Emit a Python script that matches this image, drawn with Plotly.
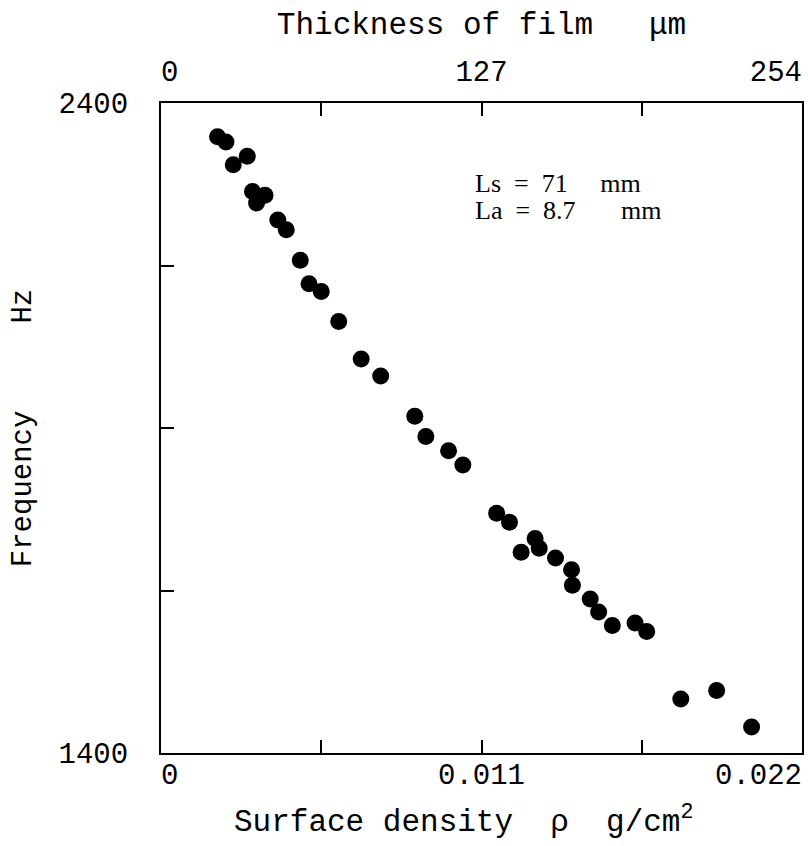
import plotly.graph_objects as go

# Surface density (g/cm^2) and frequency (Hz)
density = [0.00194, 0.00223, 0.00248, 0.00296, 0.00314, 0.00328, 0.00357, 0.00401,
           0.00430, 0.00478, 0.00508, 0.00550, 0.00610, 0.00687, 0.00754, 0.00871,
           0.00909, 0.00987, 0.01036, 0.01152, 0.01196, 0.01236, 0.01284, 0.01298,
           0.01354, 0.01409, 0.01412, 0.01473, 0.01502, 0.01549, 0.01627, 0.01667,
           0.01784, 0.01907, 0.02027]
frequency = [2348, 2340, 2305, 2318, 2264, 2246, 2258, 2220,
             2205, 2158, 2122, 2110, 2064, 2006, 1980, 1918,
             1887, 1865, 1843, 1769, 1755, 1709, 1730, 1715,
             1700, 1682, 1658, 1637, 1617, 1596, 1600, 1587,
             1483, 1496, 1440]

x_tickvals = [0, 0.0055, 0.011, 0.0165, 0.022]
x_ticktext = ["\u00a00", "", "0.011", "", "0.022\u00a0\u00a0\u00a0\u00a0\u00a0"]
top_tickvals = [0, 63.5, 127, 190.5, 254]
top_ticktext = ["\u00a00", "", "127", "", "254\u00a0\u00a0\u00a0"]
y_tickvals = [1400, 1650, 1900, 2150, 2400]
y_ticktext = ["1400", "", "", "", "2400"]

MONO = "Liberation Mono"
NB = "\u00a0"

fig = go.Figure()
fig.add_trace(go.Scatter(
    x=density, y=frequency, mode="markers",
    marker=dict(size=17, color="black"),
    showlegend=False, hoverinfo="skip"))
# invisible trace to activate top axis
fig.add_trace(go.Scatter(x=[0, 254], y=[1400, 1400], xaxis="x2", mode="markers",
                         marker=dict(opacity=0), showlegend=False, hoverinfo="skip"))

axis_common = dict(showgrid=False, zeroline=False, showline=True, linecolor="black",
                   linewidth=2, ticks="inside", ticklen=13, tickwidth=2, tickcolor="black",
                   automargin=False, ticklabeloverflow="allow")

fig.update_layout(
    width=808, height=846,
    margin=dict(l=161, r=6, t=103, b=93),
    paper_bgcolor="white", plot_bgcolor="white",
    font=dict(family=MONO, color="black", size=29),
    xaxis=dict(range=[0, 0.022], tickvals=x_tickvals, ticktext=x_ticktext,
               tickfont=dict(size=29), ticklabelstandoff=-6,
               **axis_common),
    xaxis2=dict(range=[0, 254], overlaying="x", side="top", tickvals=top_tickvals,
                ticktext=top_ticktext, tickfont=dict(size=29), ticklabelstandoff=8,
                title=dict(text="Thickness of film" + NB * 3 + "\u03bcm",
                           font=dict(size=31), standoff=14),
                **axis_common),
    yaxis=dict(range=[1400, 2400], tickvals=y_tickvals, ticktext=y_ticktext,
               tickfont=dict(size=29), ticklabelstandoff=25, mirror=True,
               title=dict(text="Frequency" + NB * 5 + "Hz",
                          font=dict(size=29), standoff=18),
               **axis_common),
)

# bottom axis title
fig.add_annotation(xref="paper", yref="paper", x=0.472, y=-0.103, xanchor="center",
                   yanchor="middle", showarrow=False,
                   text="Surface density" + NB * 2 + "\u03c1" + NB * 2 + "g/cm<sup>2</sup>",
                   font=dict(family=MONO, size=31, color="black"))

fig.add_annotation(xref="paper", yref="paper", x=0.487, y=0.876, xanchor="left",
                   yanchor="middle", showarrow=False,
                   text="Ls" + NB * 2 + "=" + NB * 2 + "71" + NB * 5 + "mm",
                   font=dict(family="Liberation Serif", size=26, color="black"))
fig.add_annotation(xref="paper", yref="paper", x=0.487, y=0.834, xanchor="left",
                   yanchor="middle", showarrow=False,
                   text="La" + NB * 2 + "=" + NB * 2 + "8.7" + NB * 7 + "mm",
                   font=dict(family="Liberation Serif", size=26, color="black"))

fig.write_html("out.html", config={"displayModeBar": False},
               post_script="document.body.style.margin='0px';document.body.style.overflow='hidden';")
